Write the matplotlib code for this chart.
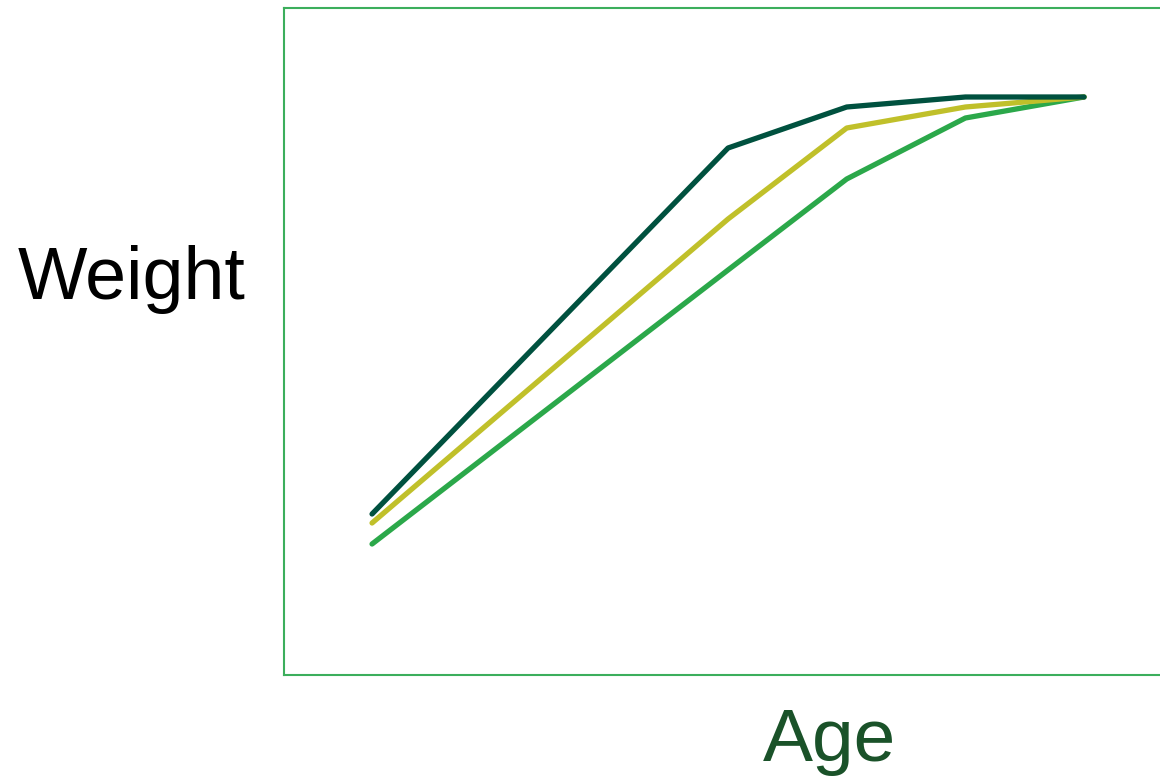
import matplotlib.pyplot as plt

# growth curves (age index vs relative weight)
ages = [0, 3, 4, 5, 6]
weight_dark = [16.1, 52.7, 56.8, 57.8, 57.8]
weight_yellow = [15.2, 45.6, 54.7, 56.8, 57.8]
weight_green = [13.1, 40.5, 49.6, 55.7, 57.8]

colors = {'dark': '#00513f', 'yellow': '#c0c02a', 'green': '#2ba84a'}

fig = plt.figure(figsize=(11.6, 7.78), dpi=100)
ax = fig.add_axes([284 / 1160, 103 / 778, 1 - 284 / 1160, 667 / 778])

for y, c in [(weight_green, colors['green']),
             (weight_yellow, colors['yellow']),
             (weight_dark, colors['dark'])]:
    ax.plot(ages, y, color=c, lw=3.8, solid_capstyle='round',
            solid_joinstyle='round')

ax.set_xlim(-0.742, 6.64)
ax.set_ylim(0, 66.7)
ax.set_xticks([])
ax.set_yticks([])
for side in ['left', 'bottom', 'top']:
    ax.spines[side].set_color('#3cae5c')
    ax.spines[side].set_linewidth(1.5)
ax.spines['right'].set_visible(False)

fig.text(132 / 1160, 1 - 280 / 778, 'Weight', fontsize=53,
         family='Liberation Sans', color='black', ha='center', va='center')
fig.text(829 / 1160, 1 - 741 / 778, 'Age', fontsize=54,
         family='Liberation Sans', color='#1a5229', ha='center', va='center')

fig.savefig('out.png', dpi=100)
